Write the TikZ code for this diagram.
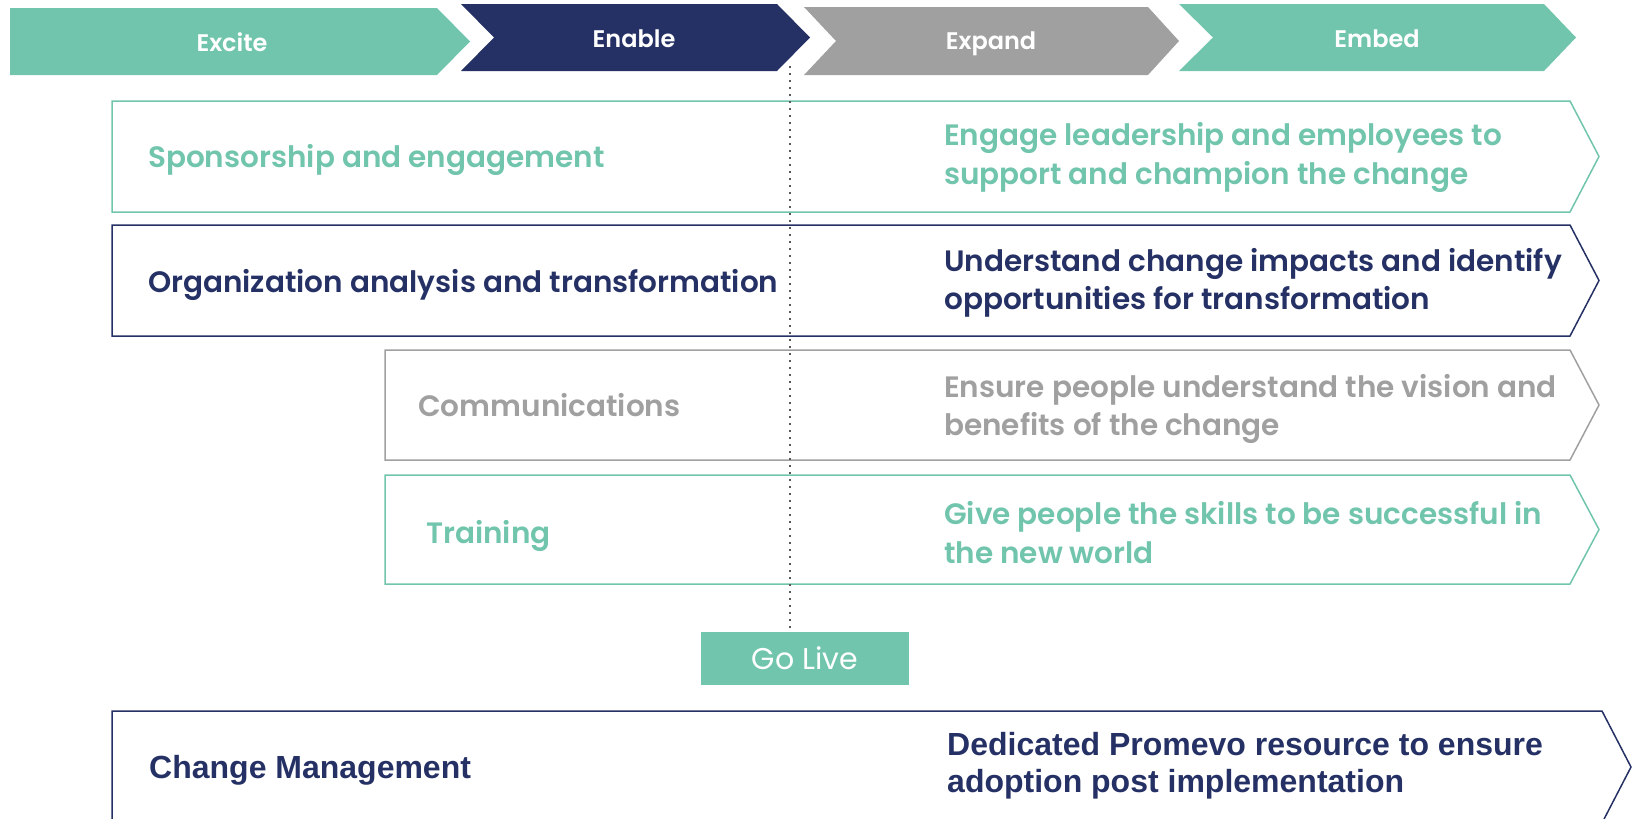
\documentclass[tikz,border=0pt]{standalone}
\usepackage{fontspec}
\setmainfont{Poppins}[BoldFont={Poppins SemiBold}]
\newfontfamily\arialfont{Liberation Sans}
\usepackage{tikz}
\usetikzlibrary{positioning}
\definecolor{mint}{RGB}{113,197,172}
\definecolor{navy}{RGB}{37,49,101}
\definecolor{stone}{RGB}{160,160,160}

\begin{document}
\begin{tikzpicture}
      [x=1pt, y=-1pt,
      phase style/.style={text=white, inner sep=0pt, text height=17pt, text depth=0pt, font=\fontsize{24}{28}\selectfont\bfseries},
      row style/.style={draw, line width=1.5pt, line join=miter},
      head style/.style={anchor=west, inner sep=0pt, text height=20.5pt, text depth=0pt, font=\fontsize{29.5}{38}\selectfont\bfseries},
      note style/.style={anchor=west, inner sep=0pt, align=left, text height=20.5pt, text depth=0pt, font=\fontsize{29.5}{38.5}\selectfont\bfseries},
      cm style/.style={anchor=west, inner sep=0pt, align=left, text=navy, text height=23pt, text depth=0pt, font=\arialfont\fontsize{32}{36.5}\selectfont\bfseries},
      live style/.style={fill=mint, text=white, minimum width=208pt, minimum height=53pt, inner sep=0pt, font=\fontsize{30}{34}\selectfont}
      ]
    \useasboundingbox (0,0) rectangle (1636,819);

    % phases
    \fill[mint] (10,8) -- (437,8) -- (470,41.5) -- (437,75) -- (10,75) -- cycle;
    \fill[navy] (461,4) -- (777,4) -- (810,37.5) -- (777,71) -- (461,71) -- (494,37.5) -- cycle;
    \fill[stone] (804,7) -- (1148,7) -- (1179,41) -- (1148,75) -- (804,75) -- (836,41) -- cycle;
    \fill[mint] (1179,4) -- (1544,4) -- (1576,37.5) -- (1544,71) -- (1179,71) -- (1213,37.5) -- cycle;
    \node[phase style] (excite) at (232,43) {Excite};
    \node[phase style] (enable) at (634,39) {Enable};
    \node[phase style] (expand) at (991,41) {Expand};
    \node[phase style] (embed) at (1377,39) {Embed};

    % workstreams
    \draw[row style, mint] (112,101) -- (1570,101) -- (1599,156.5) -- (1570,212) -- (112,212) -- cycle;
    \draw[row style, navy] (112,225) -- (1570,225) -- (1599,280.5) -- (1570,336) -- (112,336) -- cycle;
    \draw[row style, stone] (385,350) -- (1570,350) -- (1599,405) -- (1570,460) -- (385,460) -- cycle;
    \draw[row style, mint] (385,475) -- (1570,475) -- (1599,529.5) -- (1570,584) -- (385,584) -- cycle;
    \draw[row style, navy] (112,711) -- (1602,711) -- (1631,767) -- (1602,823) -- (112,823) -- cycle;

    \node[head style, text=mint] (sponsor) at (148,157.5) {Sponsorship and engagement};
    \node[note style, text=mint] (sponsor note) at (944,174) {Engage leadership and employees to\\support and champion the change};
    \node[head style, text=navy] (org) at (148,282) {Organization analysis and transformation};
    \node[note style, text=navy] (org note) at (944,299.5) {Understand change impacts and identify\\opportunities for transformation};
    \node[head style, text=stone] (comms) at (418,406) {Communications};
    \node[note style, text=stone] (comms note) at (944,425.5) {Ensure people understand the vision and\\benefits of the change};
    \node[head style, text=mint] (training) at (426,533) {Training};
    \node[note style, text=mint] (training note) at (944,553) {Give people the skills to be successful in\\the new world};
    \node[cm style] (cm) at (149,767) {Change Management};
    \node[cm style] (cm note) at (947,780.5) {Dedicated Promevo resource to ensure\\adoption post implementation};

    % go live
    \node[live style] (golive) at (805,658) {Go Live};
    \coordinate (cutover) at (790,66);
    \draw[line width=1.5pt, dash pattern=on 1.5pt off 5.5pt, black!65] (cutover) -- (cutover |- golive.north);
\end{tikzpicture}
\end{document}
